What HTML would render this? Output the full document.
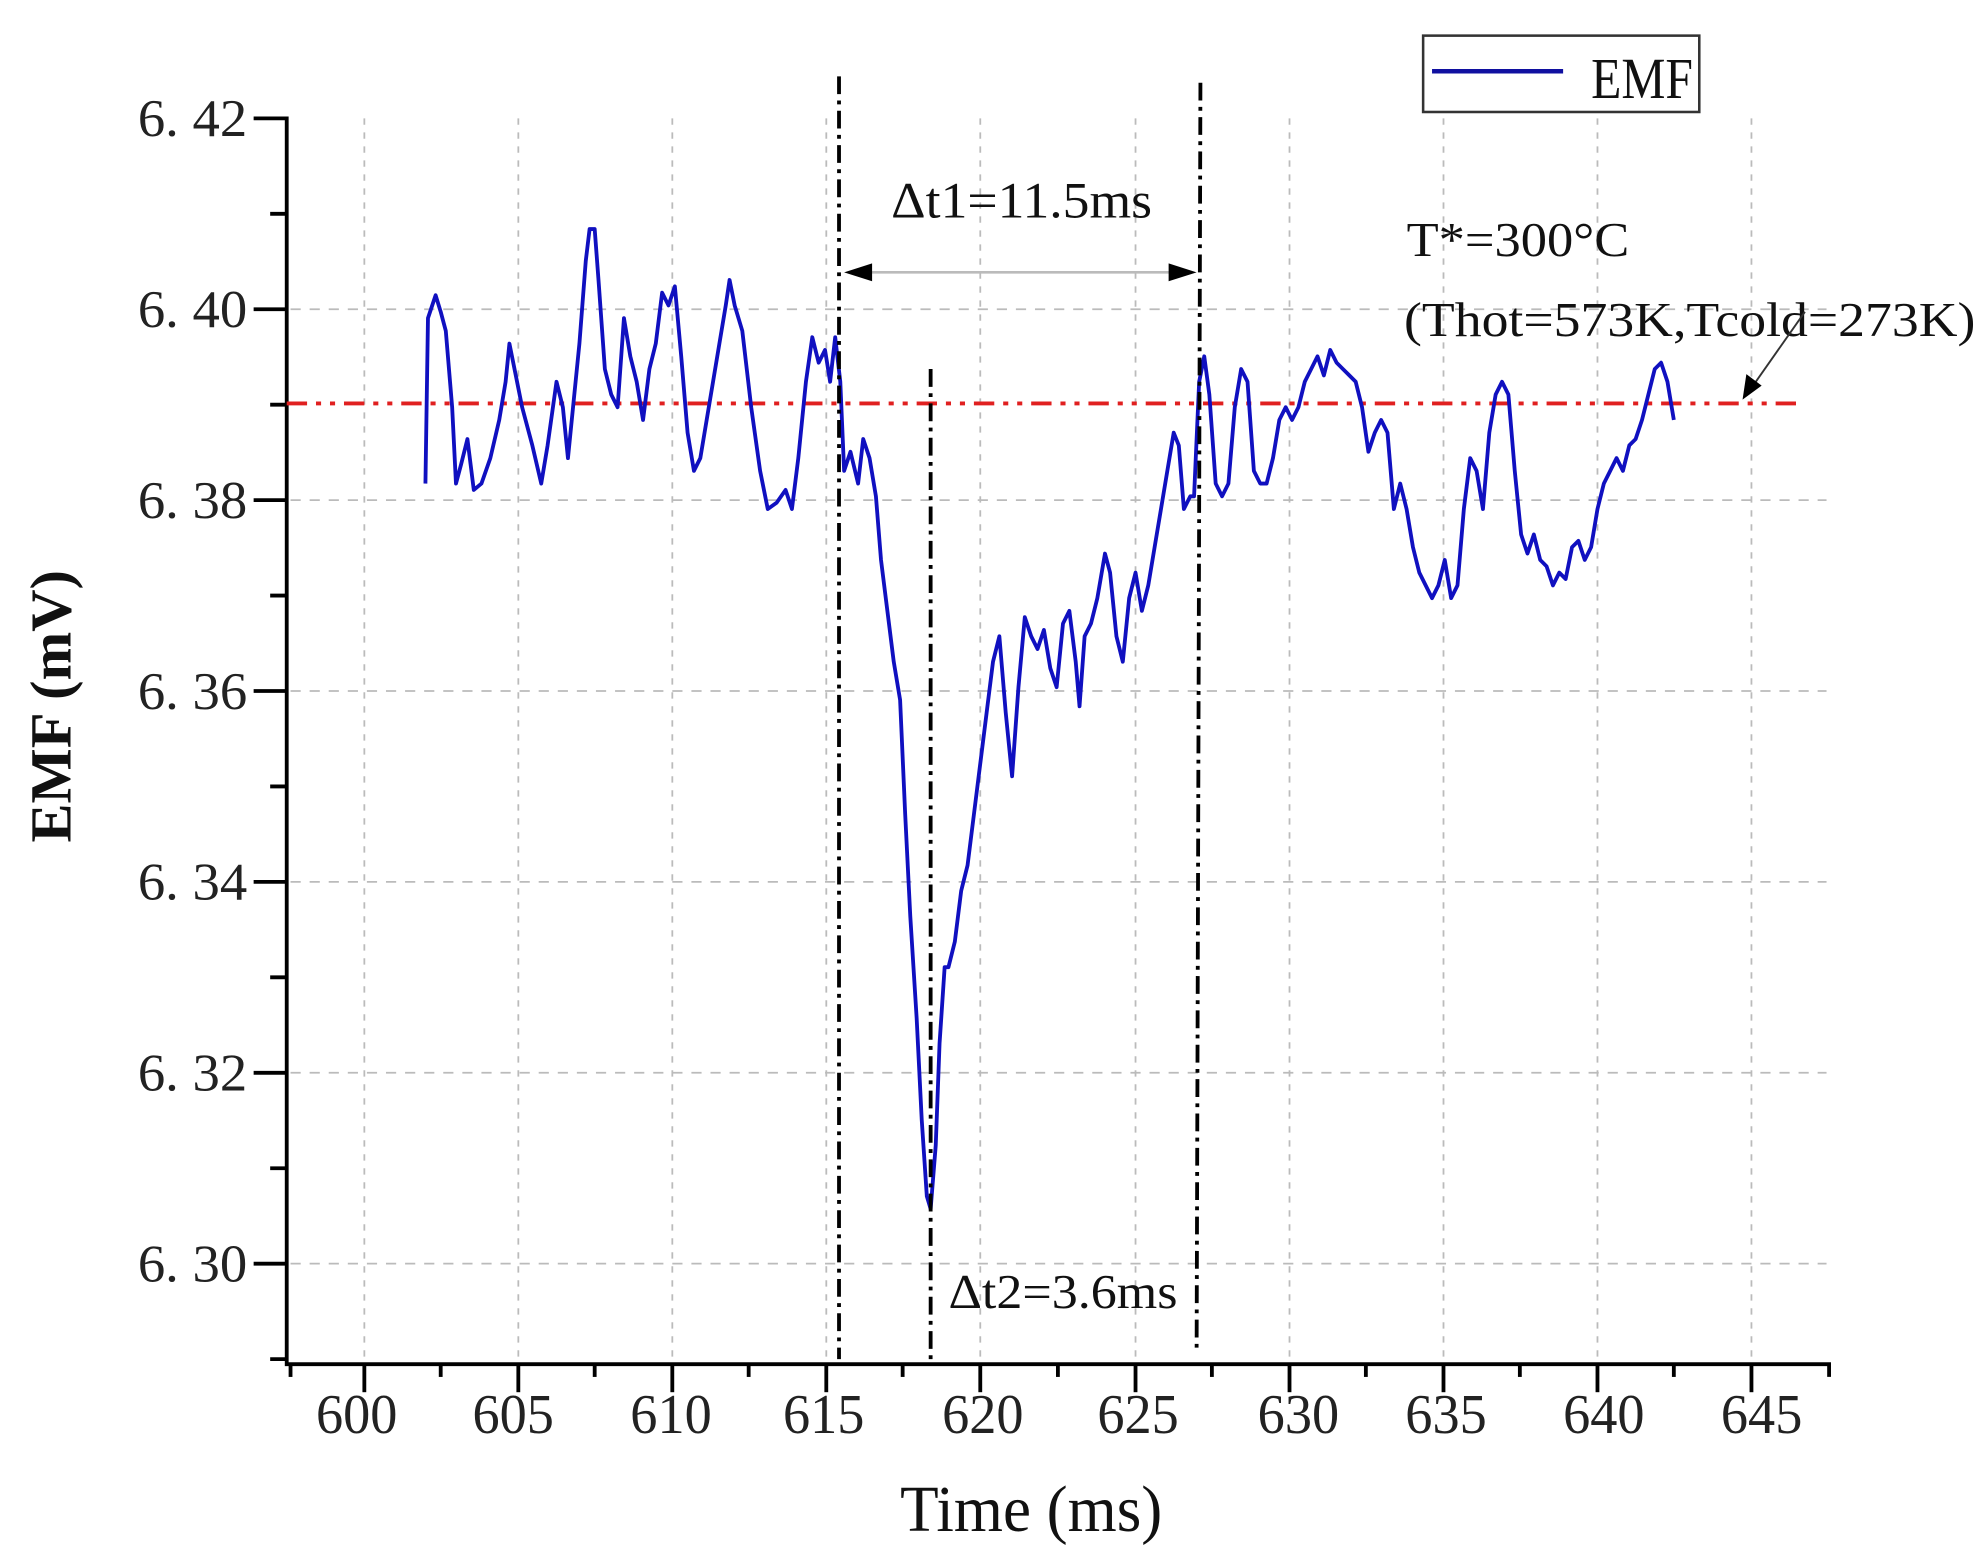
<!DOCTYPE html>
<html><head><meta charset="utf-8"><style>html,body{margin:0;padding:0;background:#fff}svg{display:block}</style></head>
<body>
<svg width="1986" height="1550" viewBox="0 0 1560 1218" xmlns="http://www.w3.org/2000/svg" font-family="'Liberation Serif', serif">
<rect width="1560" height="1218" fill="#fff"/>
<g stroke="#bbb" stroke-width="1.4" stroke-dasharray="5,6">
<line x1="286" y1="93" x2="286" y2="1068"/><line x1="407" y1="93" x2="407" y2="1068"/><line x1="528" y1="93" x2="528" y2="1068"/><line x1="649" y1="93" x2="649" y2="1068"/><line x1="770" y1="93" x2="770" y2="1068"/><line x1="892" y1="93" x2="892" y2="1068"/><line x1="1013" y1="93" x2="1013" y2="1068"/><line x1="1134" y1="93" x2="1134" y2="1068"/><line x1="1255" y1="93" x2="1255" y2="1068"/><line x1="1376" y1="93" x2="1376" y2="1068"/>
</g>
<g stroke="#bbb" stroke-width="1.4" stroke-dasharray="8,7">
<line x1="228" y1="243" x2="1435" y2="243"/><line x1="228" y1="393" x2="1435" y2="393"/><line x1="228" y1="543" x2="1435" y2="543"/><line x1="228" y1="693" x2="1435" y2="693"/><line x1="228" y1="843" x2="1435" y2="843"/><line x1="228" y1="993" x2="1435" y2="993"/>
</g>
<g stroke="#000" stroke-width="3" fill="none">
<polyline points="199,93 225,93 225,1072 1437,1072 1437,1082"/>
<line x1="199" y1="243" x2="225" y2="243"/><line x1="199" y1="393" x2="225" y2="393"/><line x1="199" y1="543" x2="225" y2="543"/><line x1="199" y1="693" x2="225" y2="693"/><line x1="199" y1="843" x2="225" y2="843"/><line x1="199" y1="993" x2="225" y2="993"/>
<line x1="212" y1="168" x2="225" y2="168"/><line x1="212" y1="318" x2="225" y2="318"/><line x1="212" y1="468" x2="225" y2="468"/><line x1="212" y1="618" x2="225" y2="618"/><line x1="212" y1="768" x2="225" y2="768"/><line x1="212" y1="918" x2="225" y2="918"/><line x1="212" y1="1068" x2="225" y2="1068"/>
<line x1="286" y1="1072" x2="286" y2="1094"/><line x1="407" y1="1072" x2="407" y2="1094"/><line x1="528" y1="1072" x2="528" y2="1094"/><line x1="649" y1="1072" x2="649" y2="1094"/><line x1="770" y1="1072" x2="770" y2="1094"/><line x1="892" y1="1072" x2="892" y2="1094"/><line x1="1013" y1="1072" x2="1013" y2="1094"/><line x1="1134" y1="1072" x2="1134" y2="1094"/><line x1="1255" y1="1072" x2="1255" y2="1094"/><line x1="1376" y1="1072" x2="1376" y2="1094"/>
<line x1="228" y1="1072" x2="228" y2="1082"/><line x1="346" y1="1072" x2="346" y2="1082"/><line x1="467" y1="1072" x2="467" y2="1082"/><line x1="588" y1="1072" x2="588" y2="1082"/><line x1="709" y1="1072" x2="709" y2="1082"/><line x1="831" y1="1072" x2="831" y2="1082"/><line x1="952" y1="1072" x2="952" y2="1082"/><line x1="1073" y1="1072" x2="1073" y2="1082"/><line x1="1194" y1="1072" x2="1194" y2="1082"/><line x1="1315" y1="1072" x2="1315" y2="1082"/>
</g>
<g font-size="42" fill="#222">
<text x="108" y="107" textLength="86" lengthAdjust="spacingAndGlyphs">6. 42</text><text x="108" y="257" textLength="86" lengthAdjust="spacingAndGlyphs">6. 40</text><text x="108" y="407" textLength="86" lengthAdjust="spacingAndGlyphs">6. 38</text><text x="108" y="557" textLength="86" lengthAdjust="spacingAndGlyphs">6. 36</text><text x="108" y="707" textLength="86" lengthAdjust="spacingAndGlyphs">6. 34</text><text x="108" y="857" textLength="86" lengthAdjust="spacingAndGlyphs">6. 32</text><text x="108" y="1007" textLength="86" lengthAdjust="spacingAndGlyphs">6. 30</text>
</g>
<g font-size="44" fill="#222">
<text x="248" y="1126" textLength="64" lengthAdjust="spacingAndGlyphs">600</text><text x="371" y="1126" textLength="64" lengthAdjust="spacingAndGlyphs">605</text><text x="495" y="1126" textLength="64" lengthAdjust="spacingAndGlyphs">610</text><text x="615" y="1126" textLength="64" lengthAdjust="spacingAndGlyphs">615</text><text x="740" y="1126" textLength="64" lengthAdjust="spacingAndGlyphs">620</text><text x="862" y="1126" textLength="64" lengthAdjust="spacingAndGlyphs">625</text><text x="988" y="1126" textLength="64" lengthAdjust="spacingAndGlyphs">630</text><text x="1104" y="1126" textLength="64" lengthAdjust="spacingAndGlyphs">635</text><text x="1228" y="1126" textLength="64" lengthAdjust="spacingAndGlyphs">640</text><text x="1352" y="1126" textLength="64" lengthAdjust="spacingAndGlyphs">645</text>
</g>
<text x="707" y="1203" font-size="52" fill="#111" textLength="206" lengthAdjust="spacingAndGlyphs">Time (ms)</text>
<text transform="translate(55,555) rotate(-90)" font-size="46" font-weight="bold" text-anchor="middle" fill="#111">EMF (mV)</text>
<line x1="225" y1="317" x2="1415" y2="317" stroke="#e02020" stroke-width="3" stroke-dasharray="16,7,4,7,4,7"/>
<polyline fill="none" stroke="#1010c0" stroke-width="3" stroke-linejoin="round" points="334,380 336,250 342,232 346,245 350,260 355,320 358,380 362,365 367,345 372,385 378,380 385,360 392,330 397,300 400,270 405,295 410,320 418,350 425,380 430,350 437,300 442,320 446,360 450,320 455,270 460,205 463,180 467,180 470,220 475,290 480,310 485,320 490,250 495,280 500,300 505,330 510,290 515,270 520,230 525,240 530,225 535,280 540,340 545,370 550,360 555,330 560,300 565,270 570,240 573,220 577,240 583,260 590,320 597,370 603,400 610,395 617,385 622,400 627,360 633,300 638,265 643,285 648,275 652,300 656,265 660,300 663,370 668,355 674,380 678,345 683,360 688,390 692,440 697,480 702,520 707,550 711,640 715,720 720,800 724,880 728,940 731,950 735,900 738,820 742,760 745,760 750,740 755,700 760,680 765,640 770,600 775,560 780,520 785,500 790,560 795,610 800,540 805,485 810,500 815,510 820,495 825,525 830,540 835,490 840,480 845,520 848,555 852,500 857,490 862,470 868,435 872,450 877,500 882,520 887,470 892,450 897,480 902,460 907,430 912,400 917,370 922,340 926,350 930,400 935,390 938,390 942,300 946,280 950,310 955,380 960,390 965,380 970,320 975,290 980,300 985,370 990,380 995,380 1000,360 1005,330 1010,320 1015,330 1020,320 1025,300 1030,290 1035,280 1040,295 1045,275 1050,285 1055,290 1060,295 1065,300 1070,320 1075,355 1080,340 1085,330 1090,340 1095,400 1100,380 1105,400 1110,430 1115,450 1120,460 1125,470 1130,460 1135,440 1140,470 1145,460 1150,400 1155,360 1160,370 1165,400 1170,340 1175,310 1180,300 1185,310 1190,370 1195,420 1200,435 1205,420 1210,440 1215,445 1220,460 1225,450 1230,455 1235,430 1240,425 1245,440 1250,430 1255,400 1260,380 1265,370 1270,360 1275,370 1280,350 1285,345 1290,330 1295,310 1300,290 1305,285 1310,300 1315,330"/>
<g stroke="#000" stroke-width="3" stroke-dasharray="14,5,3,5">
<line x1="659" y1="60" x2="659" y2="1068"/>
<line x1="943" y1="65" x2="940" y2="1062"/>
<line x1="731" y1="290" x2="731" y2="1068"/>
</g>
<line x1="672" y1="214" x2="930" y2="214" stroke="#bbb" stroke-width="2"/>
<polygon points="663,214 685,207 685,221" fill="#000"/>
<polygon points="940,214 918,207 918,221" fill="#000"/>
<text x="700" y="171" font-size="40" fill="#111" textLength="205" lengthAdjust="spacingAndGlyphs">Δt1=11.5ms</text>
<text x="745" y="1028" font-size="38" fill="#111" textLength="180" lengthAdjust="spacingAndGlyphs">Δt2=3.6ms</text>
<text x="1105" y="201" font-size="38" fill="#111" textLength="175" lengthAdjust="spacingAndGlyphs">T*=300°C</text>
<text x="1103" y="264" font-size="38" fill="#111" textLength="449" lengthAdjust="spacingAndGlyphs">(Thot=573K,Tcold=273K)</text>
<line x1="1418" y1="245" x2="1378" y2="302" stroke="#333" stroke-width="1.5"/>
<polygon points="1369,314 1372,294 1384,303" fill="#000"/>
<rect x="1118" y="28" width="217" height="60" fill="#fff" stroke="#333" stroke-width="2"/>
<line x1="1125" y1="56" x2="1228" y2="56" stroke="#1010a0" stroke-width="3.5"/>
<text x="1250" y="77" font-size="46" fill="#111" textLength="80" lengthAdjust="spacingAndGlyphs">EMF</text>
</svg>
</body></html>
